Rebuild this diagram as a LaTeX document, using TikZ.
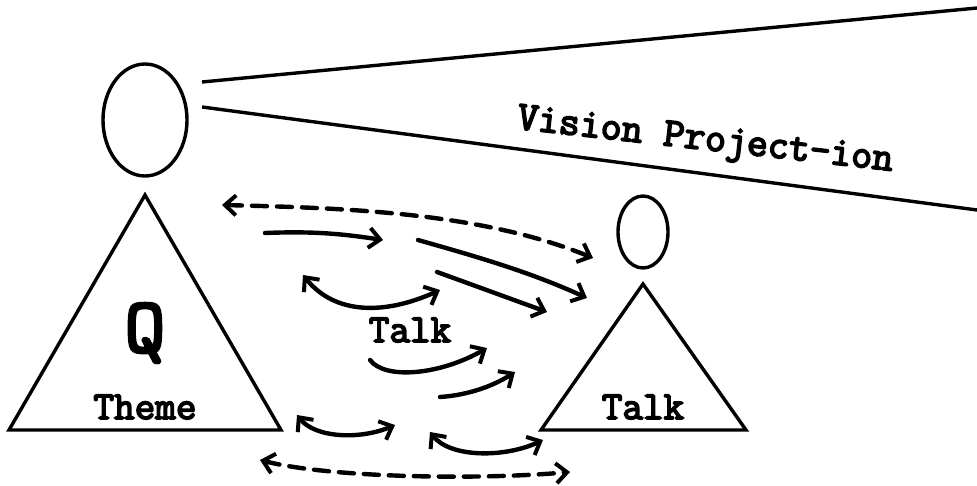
\documentclass[tikz,border=0pt]{standalone}
\usepackage{fontspec}
\setmonofont{Latin Modern Mono}[BoldFont={Latin Modern Mono}, BoldFeatures={FakeBold=4}]
\usetikzlibrary{shapes.geometric,arrows.meta}
\begin{document}
\begin{tikzpicture}[x=1pt,y=-1pt,
  shapeline/.style={line width=3.4pt, line join=miter},
  head/.style={draw, ellipse, line width=3.4pt, inner sep=0pt},
  lbl/.style={font=\ttfamily\bfseries\fontsize{40}{44}\selectfont, inner sep=0pt},
  conn/.style={line width=4.4pt, line cap=round},
  barb/.tip={Straight Barb[length=11pt,width=20pt,line width=4pt]},
  tip/.style={-barb},
  tips/.style={barb-barb},
  dsh/.style={dash pattern=on 15pt off 10pt}]
\useasboundingbox (0,0) rectangle (977,486);
\fill[white] (0,0) rectangle (977,486);
% big figure
\node[head, minimum width=84pt, minimum height=112pt] (bighead) at (145,120) {};
\coordinate (bA) at (145,195);
\coordinate (bL) at (9,430);
\coordinate (bR) at (281,430);
\draw[shapeline] (bA) -- (bL) -- (bR) -- cycle;
\node[font=\ttfamily\bfseries\fontsize{78}{80}\selectfont, inner sep=0pt] (q) at (145,333) {Q};
\node[lbl] (theme) at (145,407) {Theme};
% small figure
\node[head, minimum width=50pt, minimum height=72pt] (smallhead) at (643,232) {};
\coordinate (sA) at (643,284);
\coordinate (sL) at (541,430);
\coordinate (sR) at (746,430);
\draw[shapeline] (sA) -- (sL) -- (sR) -- cycle;
\node[lbl] (talkright) at (643,407) {Talk};
% vision lines
\coordinate (v1s) at (202,82);
\coordinate (v1e) at (977,8);
\coordinate (v2s) at (202,107);
\coordinate (v2e) at (977,210);
\draw[line width=3.4pt] (v1s) -- (v1e);
\draw[line width=3.4pt] (v2s) -- (v2e);
\node[lbl, font=\ttfamily\bfseries\fontsize{40.8}{44}\selectfont, rotate=-6.4] (vision) at (705,142) {Vision Project-ion};
% middle label
\node[lbl] (talkmid) at (410,330) {Talk};
% arrows
\coordinate (a1s) at (222,205); \coordinate (a1e) at (593,258);
\draw[conn, tips, dsh] (a1s) .. controls (350,208) and (483,213) .. (a1e);
\coordinate (a2s) at (265,233); \coordinate (a2e) at (383,240);
\draw[conn, tip] (a2s) .. controls (315,231) and (343,234) .. (a2e);
\coordinate (a3s) at (418,240); \coordinate (a3e) at (587,298);
\draw[conn, tip] (a3s) .. controls (478,257) and (530,272) .. (a3e);
\coordinate (a4s) at (437,272); \coordinate (a4e) at (547,312);
\draw[conn, tip] (a4s) -- (a4e);
\coordinate (a5s) at (303,275); \coordinate (a5e) at (440,290);
\draw[conn, tips] (a5s) .. controls (335,315) and (385,315) .. (a5e);
\coordinate (a6s) at (370,360); \coordinate (a6e) at (487,348);
\draw[conn, tip] (a6s) .. controls (385,380) and (440,375) .. (a6e);
\coordinate (a7s) at (440,397); \coordinate (a7e) at (515,372);
\draw[conn, tip] (a7s) .. controls (470,395) and (495,385) .. (a7e);
\coordinate (a8s) at (297,415); \coordinate (a8e) at (395,425);
\draw[conn, tips] (a8s) .. controls (315,438) and (360,440) .. (a8e);
\coordinate (a9s) at (430,432); \coordinate (a9e) at (543,440);
\draw[conn, tips] (a9s) .. controls (450,458) and (505,458) .. (a9e);
\coordinate (a10s) at (260,460); \coordinate (a10e) at (570,472);
\draw[conn, tips, dsh] (a10s) .. controls (330,478) and (480,480) .. (a10e);
\end{tikzpicture}
\end{document}
